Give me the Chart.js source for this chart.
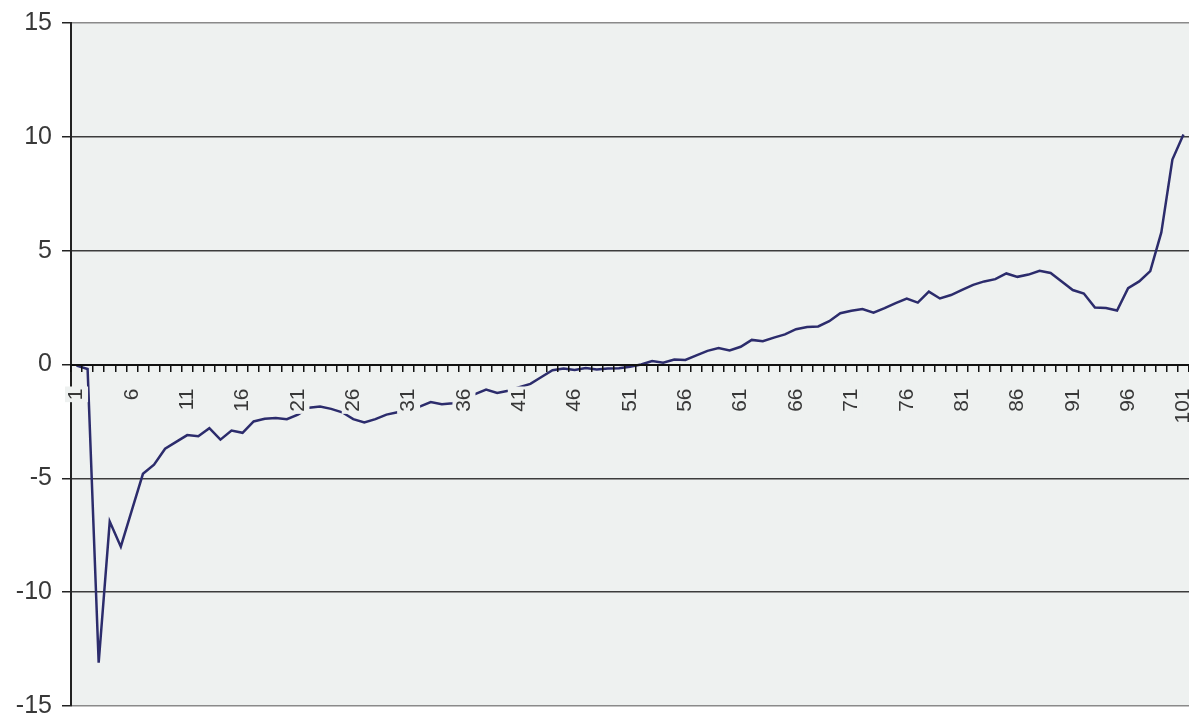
<!DOCTYPE html>
<html>
<head>
<meta charset="utf-8">
<script src="https://cdn.jsdelivr.net/npm/chart.js@4/dist/chart.umd.min.js"></script>
<style>
  html, body { margin: 0; padding: 0; background: #ffffff; }
  #wrap { width: 1189px; height: 714px; position: relative; }
</style>
</head>
<body>
<div id="wrap"><canvas id="c"></canvas></div>
<script>
// Categories 1..101
const categories = [];
for (let i = 1; i <= 101; i++) categories.push(String(i));

// Series values
const seriesValues = [
  -0.05, -0.2, -13.1, -6.9, -8.0, -6.4, -4.8, -4.4, -3.7, -3.4,
  -3.1, -3.15, -2.8, -3.3, -2.9, -3.0, -2.5, -2.38, -2.35, -2.4,
  -2.2, -1.9, -1.85, -1.95, -2.1, -2.4, -2.55, -2.4, -2.2, -2.1,
  -2.0, -1.85, -1.65, -1.75, -1.7, -1.5, -1.3, -1.1, -1.25, -1.15,
  -1.0, -0.85, -0.55, -0.25, -0.18, -0.24, -0.15, -0.22, -0.18, -0.16,
  -0.1, 0.0, 0.15, 0.08, 0.22, 0.2, 0.4, 0.6, 0.72, 0.62,
  0.78, 1.08, 1.02, 1.18, 1.32, 1.55, 1.65, 1.67, 1.9, 2.25,
  2.36, 2.44, 2.28, 2.48, 2.7, 2.9, 2.72, 3.2, 2.9, 3.05,
  3.28, 3.5, 3.65, 3.75, 4.0, 3.85, 3.95, 4.12, 4.02, 3.65,
  3.27, 3.12, 2.5, 2.48, 2.37, 3.35, 3.65, 4.1, 5.8, 9.0,
  10.1
];

// Tick labels
const yTicks = [-15, -10, -5, 0, 5, 10, 15];
const xLabelEvery = 5;

const PLOT_BG = '#eef1f0';
const FONT_FAMILY = '"Liberation Sans", Arial, sans-serif';
const X_FONT_SIZE = 21;
const X_TICK_LEN = 6;
const X_TICK_PAD = 18;

const bgPlugin = {
  id: 'plotBg',
  beforeDraw(chart) {
    const {ctx, chartArea: a} = chart;
    ctx.save();
    ctx.fillStyle = PLOT_BG;
    ctx.fillRect(a.left, a.top, a.right - a.left, a.bottom - a.top);
    ctx.restore();
  }
};

// Label backdrops: the category labels hide the line behind them
const labelBackdropPlugin = {
  id: 'labelBackdrop',
  afterDatasetsDraw(chart) {
    const xs = chart.scales.x, ys = chart.scales.y;
    const ctx = chart.ctx;
    const axisY = ys.getPixelForValue(0);
    ctx.save();
    ctx.font = X_FONT_SIZE + 'px ' + FONT_FAMILY;
    ctx.fillStyle = PLOT_BG;
    for (let i = 0; i < categories.length; i += xLabelEvery) {
      const px = xs.getPixelForTick(i);
      const w = ctx.measureText(categories[i]).width;
      const h = X_FONT_SIZE + 2;
      ctx.fillRect(px - h / 2, axisY + X_TICK_LEN + X_TICK_PAD - 2, h, w + 4);
    }
    ctx.restore();
  }
};

new Chart(document.getElementById('c'), {
  type: 'line',
  data: {
    labels: categories,
    datasets: [{
      data: seriesValues,
      borderColor: '#2c2c6c',
      borderWidth: 2.5,
      pointRadius: 0,
      tension: 0,
      fill: false
    }]
  },
  plugins: [bgPlugin, labelBackdropPlugin],
  options: {
    responsive: true,
    maintainAspectRatio: false,
    animation: false,
    events: [],
    layout: { padding: { top: 23, bottom: 8, left: 0, right: 0 } },
    plugins: { legend: { display: false }, tooltip: { enabled: false } },
    scales: {
      x: {
        type: 'category',
        position: { y: 0 },
        offset: true,
        grid: {
          offset: true,
          drawOnChartArea: false,
          drawTicks: true,
          tickLength: X_TICK_LEN,
          tickColor: '#111111',
          lineWidth: 1.5,
          z: 1
        },
        border: { display: true, color: '#111111', width: 2, z: 1 },
        ticks: {
          z: 1,
          autoSkip: false,
          maxRotation: 90,
          minRotation: 90,
          padding: X_TICK_PAD,
          color: '#383838',
          font: { family: FONT_FAMILY, size: X_FONT_SIZE },
          callback: (v, i) => (i % xLabelEvery === 0 ? categories[i] : '')
        },
        afterFit: (s) => { s.paddingLeft = 0; s.paddingRight = 0; }
      },
      y: {
        min: -15,
        max: 15,
        afterBuildTicks: (s) => { s.ticks = yTicks.map(v => ({ value: v })); },
        grid: {
          color: (ctx) => (ctx.tick && (ctx.tick.value === 15 || ctx.tick.value === -15)) ? '#8a8a8a' : (ctx.tick && ctx.tick.value === 0 ? 'rgba(0,0,0,0)' : '#3c3c3c'),
          lineWidth: 1.5,
          tickLength: 9,
          tickColor: '#222222'
        },
        border: { display: true, color: '#222222', width: 2 },
        ticks: {
          padding: 10,
          color: '#383838',
          font: { family: FONT_FAMILY, size: 25 }
        },
        afterFit: (s) => { s.width = 71; s.paddingTop = 0; s.paddingBottom = 0; }
      }
    }
  }
});
</script>
</body>
</html>
